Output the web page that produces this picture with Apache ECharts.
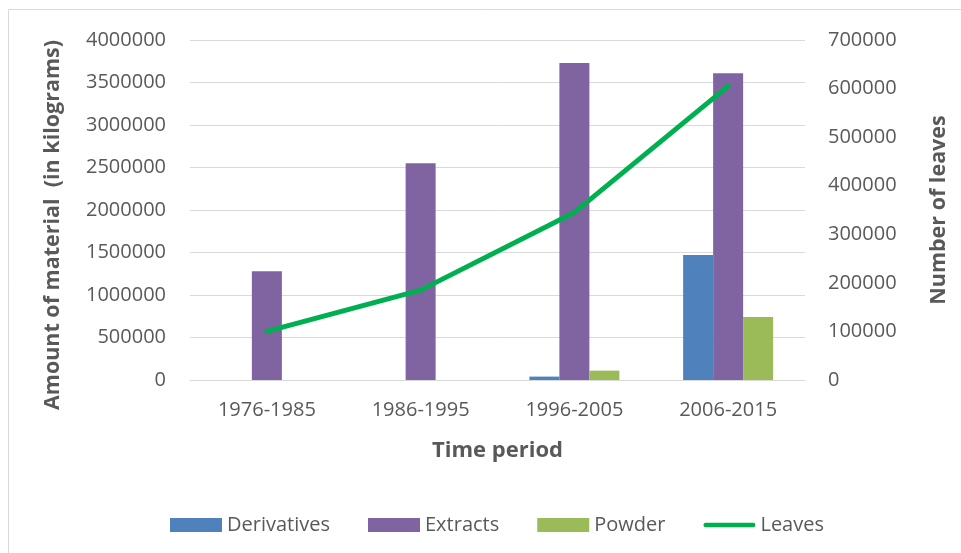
<!DOCTYPE html>
<html><head><meta charset="utf-8">
<script src="https://cdn.jsdelivr.net/npm/echarts@6/dist/echarts.min.js"></script>
<style>html,body{margin:0;padding:0;background:#fff}#c{width:961px;height:553px}</style>
</head><body><div id="c"></div>
<script>
const categories = ['1976-1985', '1986-1995', '1996-2005', '2006-2015'];
const derivatives = [0, 0, 40000, 1470000];
const extracts = [1280000, 2550000, 3730000, 3610000];
const powder = [0, 0, 110000, 740000];
const leaves = [100000, 185000, 345000, 605000];
const leftTicks = { min: 0, max: 4000000, interval: 500000 };
const rightTicks = { min: 0, max: 700000, interval: 100000 };

const txt = '#595959';
const font = 'Open Sans';
const plain = v => String(v);
const chart = echarts.init(document.getElementById('c'), null, { renderer: 'canvas' });
chart.setOption({
  animation: false,
  backgroundColor: '#fff',
  textStyle: { fontFamily: font },
  graphic: [
    { type: 'rect', shape: { x: 8.5, y: 9.5, width: 1000, height: 600 }, style: { fill: 'none', stroke: '#D9D9D9', lineWidth: 1 }, silent: true },
    { type: 'text', x: 53, y: 225, rotation: Math.PI / 2, style: { text: 'Amount of material  (in kilograms)', fill: txt, font: 'bold 21.5px "Open Sans"', align: 'center', verticalAlign: 'middle' } }
  ],
  grid: { left: 190, right: 156, top: 40, bottom: 173 },
  legend: {
    left: 165, top: 510, itemWidth: 52, itemHeight: 14, itemGap: 38,
    textStyle: { color: txt, fontSize: 20, fontFamily: font },
    data: [
      { name: 'Derivatives', icon: 'rect' },
      { name: 'Extracts', icon: 'rect' },
      { name: 'Powder', icon: 'rect' },
      { name: 'Leaves', icon: 'path://M2.5,0 L53.5,0 A2.5,2.5 0 0 1 53.5,5 L2.5,5 A2.5,2.5 0 0 1 2.5,0 Z' }
    ]
  },
  xAxis: {
    type: 'category', data: categories,
    name: 'Time period', nameLocation: 'middle', nameGap: 60,
    nameTextStyle: { color: txt, fontSize: 22, fontWeight: 'bold', fontFamily: font },
    axisLine: { lineStyle: { color: '#D9D9D9', width: 1 } },
    axisTick: { show: false },
    axisLabel: { color: txt, fontSize: 20, margin: 20, fontFamily: font }
  },
  yAxis: [
    {
      type: 'value', min: leftTicks.min, max: leftTicks.max, interval: leftTicks.interval,
      axisLine: { show: false }, axisTick: { show: false },
      splitLine: { lineStyle: { color: '#D9D9D9', width: 1 } },
      axisLabel: { color: txt, fontSize: 20, margin: 24, fontFamily: font, formatter: plain }
    },
    {
      type: 'value', min: rightTicks.min, max: rightTicks.max, interval: rightTicks.interval,
      position: 'right',
      name: 'Number of leaves', nameLocation: 'middle', nameGap: 123, nameRotate: 90,
      nameTextStyle: { color: txt, fontSize: 21.5, fontWeight: 'bold', fontFamily: font },
      axisLine: { show: false }, axisTick: { show: false },
      splitLine: { show: false },
      axisLabel: { color: txt, fontSize: 20, margin: 23, fontFamily: font, formatter: plain }
    }
  ],
  series: [
    { name: 'Derivatives', type: 'bar', data: derivatives, barWidth: 30, barGap: '0%', itemStyle: { color: '#4F81BD' } },
    { name: 'Extracts', type: 'bar', data: extracts, barWidth: 30, barGap: '0%', itemStyle: { color: '#8064A2' } },
    { name: 'Powder', type: 'bar', data: powder, barWidth: 30, barGap: '0%', itemStyle: { color: '#9BBB59' } },
    { name: 'Leaves', type: 'line', yAxisIndex: 1, data: leaves, showSymbol: false, symbol: 'none',
      lineStyle: { color: '#00B050', width: 5, cap: 'round', join: 'round' }, itemStyle: { color: '#00B050' } }
  ]
});
</script></body></html>
